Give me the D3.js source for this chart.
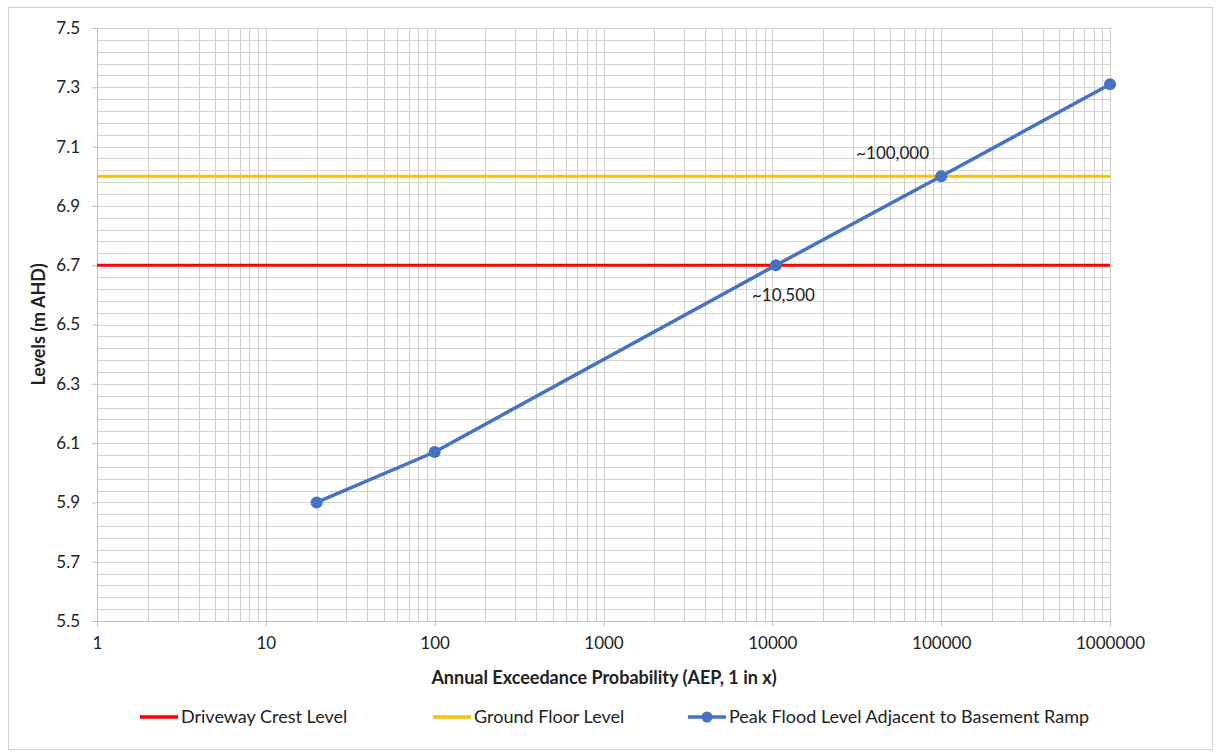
<!DOCTYPE html>
<html><head><meta charset="utf-8">
<script src="https://cdn.jsdelivr.net/npm/d3@7"></script>
<style>
body{margin:0;background:#fff;}
text{font-family:Lato,"Liberation Sans",sans-serif;fill:#222;}
</style></head><body>
<svg id="chart" width="1218" height="753"></svg>
<script>
const aep = [20, 100, 10500, 100000, 1000000];
const peakLevel = [5.9, 6.07, 6.7, 7.0, 7.31];
const drivewayCrest = 6.7;
const groundFloor = 7.0;
const xTickValues = [1, 10, 100, 1000, 10000, 100000, 1000000];
const yTickValues = [5.5, 5.7, 5.9, 6.1, 6.3, 6.5, 6.7, 6.9, 7.1, 7.3, 7.5];
const annotations = [{x: 100000, y: 7.0, label: "~100,000"}, {x: 10500, y: 6.7, label: "~10,500"}];
const seriesNames = ["Driveway Crest Level", "Ground Floor Level", "Peak Flood Level Adjacent to Basement Ramp"];

const svg = d3.select("#chart");
const m = {left: 97, right: 1110, top: 28, bottom: 621};
const x = d3.scaleLog().domain([1, 1000000]).range([m.left, m.right]);
const y = d3.scaleLinear().domain([5.5, 7.5]).range([m.bottom, m.top]);

// outer border
svg.append("rect").attr("x", 8.5).attr("y", 7.5).attr("width", 1204).attr("height", 742)
  .attr("fill", "none").attr("stroke", "#d0d0d0").attr("stroke-width", 1);

const grid = svg.append("g");
const yGrid = d3.range(0, 51).map(i => 5.5 + i * 0.04);
grid.selectAll("line.h").data(yGrid).join("line")
  .attr("x1", m.left).attr("x2", m.right)
  .attr("y1", d => Math.round(y(d)) + 0.5).attr("y2", d => Math.round(y(d)) + 0.5)
  .attr("stroke", "#d4d4d4").attr("stroke-width", 1);
const xGrid = [];
for (let e = 0; e < 6; e++) for (let k = 1; k <= 9; k++) xGrid.push(k * Math.pow(10, e));
xGrid.push(1000000);
grid.selectAll("line.v").data(xGrid).join("line")
  .attr("y1", m.top).attr("y2", m.bottom)
  .attr("x1", d => Math.round(x(d)) + 0.5).attr("x2", d => Math.round(x(d)) + 0.5)
  .attr("stroke", "#cfcfcf").attr("stroke-width", 1);

// axes
const xAxis = d3.axisBottom(x).tickValues(xTickValues).tickFormat(d3.format("d")).tickSize(5).tickPadding(11);
const gx = svg.append("g").attr("transform", `translate(0,${m.bottom})`).call(xAxis);
gx.select(".domain").attr("stroke", "#bfbfbf");
gx.selectAll(".tick line").attr("stroke", "#bfbfbf");
gx.selectAll(".tick text").attr("font-size", 17).attr("font-family", "Lato, sans-serif").attr("fill", "#222");

const yAxis = d3.axisLeft(y).tickValues(yTickValues).tickFormat(d3.format(".1f")).tickSize(5).tickPadding(12);
const gy = svg.append("g").attr("transform", `translate(${m.left},0)`).call(yAxis);
gy.select(".domain").attr("stroke", "#bfbfbf");
gy.selectAll(".tick line").attr("stroke", "#bfbfbf");
gy.selectAll(".tick text").attr("font-size", 17).attr("font-family", "Lato, sans-serif").attr("fill", "#222");

// axis titles
svg.append("text").attr("x", 604).attr("y", 684).attr("text-anchor", "middle")
  .attr("font-size", 18).attr("font-weight", "bold").text("Annual Exceedance Probability (AEP, 1 in x)");
svg.append("text").attr("transform", `translate(45,${(m.top + m.bottom) / 2}) rotate(-90)`)
  .attr("text-anchor", "middle").attr("font-size", 18).attr("font-weight", "bold").text("Levels (m AHD)");

// horizontal level lines
svg.append("line").attr("x1", m.left).attr("x2", m.right).attr("y1", y(drivewayCrest)).attr("y2", y(drivewayCrest))
  .attr("stroke", "#ff0000").attr("stroke-width", 3);
svg.append("line").attr("x1", m.left).attr("x2", m.right).attr("y1", y(groundFloor)).attr("y2", y(groundFloor))
  .attr("stroke", "#ffc000").attr("stroke-width", 3);

// peak flood series
const pts = aep.map((a, i) => [a, peakLevel[i]]);
const line = d3.line().x(d => x(d[0])).y(d => y(d[1]));
svg.append("path").datum(pts).attr("d", line).attr("fill", "none")
  .attr("stroke", "#4472c4").attr("stroke-width", 3.5).attr("stroke-linejoin", "round");
svg.selectAll("circle.pt").data(pts).join("circle")
  .attr("cx", d => x(d[0])).attr("cy", d => y(d[1])).attr("r", 6).attr("fill", "#4472c4");

// annotations
svg.append("text").attr("x", x(annotations[0].x) - 85).attr("y", y(annotations[0].y) - 17)
  .attr("text-anchor", "start").attr("font-size", 17).text(annotations[0].label);
svg.append("text").attr("x", x(annotations[1].x) - 24).attr("y", y(annotations[1].y) + 36)
  .attr("text-anchor", "start").attr("font-size", 17).text(annotations[1].label);

// legend
const legend = [
  {x: 140, color: "#ff0000", marker: false},
  {x: 433, color: "#ffc000", marker: false},
  {x: 688, color: "#4472c4", marker: true}
];
const lg = svg.append("g");
legend.forEach((l, i) => {
  lg.append("line").attr("x1", l.x).attr("x2", l.x + 38).attr("y1", 717).attr("y2", 717)
    .attr("stroke", l.color).attr("stroke-width", 3.5);
  if (l.marker) lg.append("circle").attr("cx", l.x + 19).attr("cy", 717).attr("r", 5.5).attr("fill", l.color);
  lg.append("text").attr("x", l.x + 41).attr("y", 723).attr("font-size", 18).text(seriesNames[i]);
});
</script>
</body></html>
